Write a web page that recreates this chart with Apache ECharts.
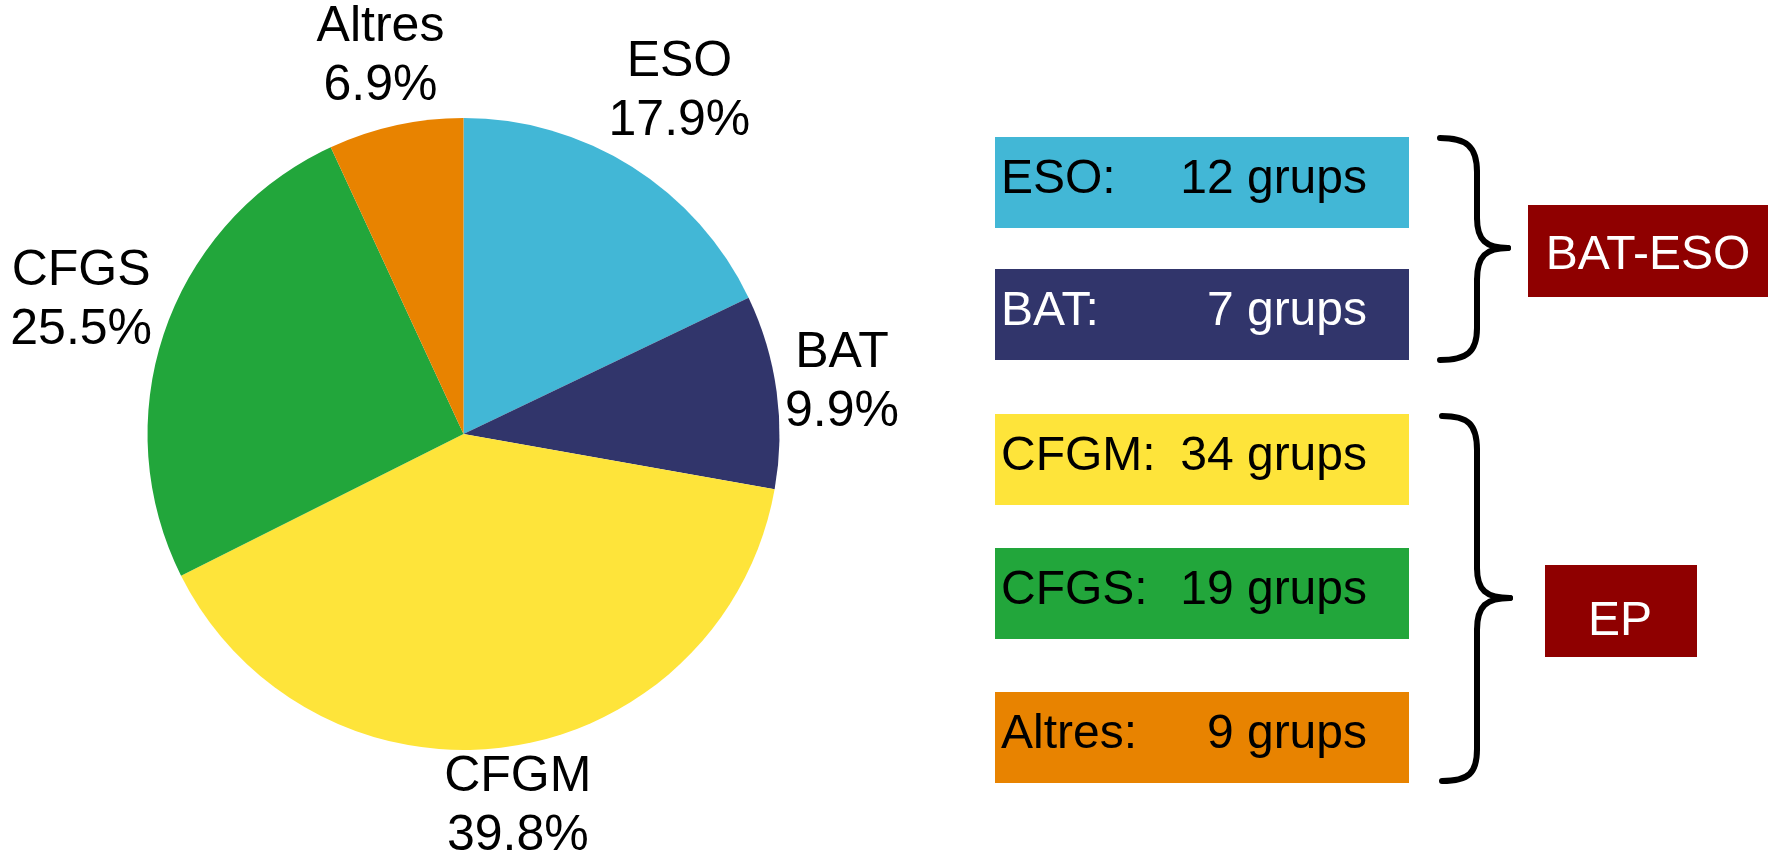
<!DOCTYPE html>
<html>
<head>
<meta charset="utf-8">
<script src="https://cdn.jsdelivr.net/npm/echarts@6/dist/echarts.min.js"></script>
<style>
html,body{margin:0;padding:0;background:#fff;}
#main{width:1773px;height:858px;}
</style>
</head>
<body>
<div id="main"></div>
<script>
// ---- data ----
const categories = ['ESO', 'BAT', 'CFGM', 'CFGS', 'Altres'];
const percents   = [17.9, 9.9, 39.8, 25.5, 6.9];
const groups     = [12, 7, 34, 19, 9];
const groupOrder = ['ESO', 'BAT', 'CFGM', 'CFGS', 'Altres'];
const groupTags  = ['BAT-ESO', 'EP'];

// ---- styles / layout ----
const colors = { ESO: '#42B7D6', BAT: '#31356B', CFGM: '#FEE43A', CFGS: '#22A63B', Altres: '#E88300' };
const boxText = { ESO: '#000', BAT: '#fff', CFGM: '#000', CFGS: '#000', Altres: '#000' };
const FONT = '"Liberation Sans", Arial, sans-serif';
const CX = 463.5, CY = 434, R = 316;
const labelDist = [405, 382, 377, 405, 386];
const boxTops = [137, 269, 414, 548, 692];
const BOX_X = 995, BOX_W = 414, BOX_H = 91;

const total = percents.reduce((a, b) => a + b, 0);
const midAngles = [];
{
  let c = 0;
  percents.forEach(v => { midAngles.push((c + v / 2) / total * 2 * Math.PI); c += v; });
}

const chart = echarts.init(document.getElementById('main'), null, { renderer: 'canvas' });

const graphics = [];
groupOrder.forEach((name, i) => {
  const y = boxTops[i];
  graphics.push({ type: 'rect', shape: { x: BOX_X, y: y, width: BOX_W, height: BOX_H }, style: { fill: colors[name] }, silent: true });
  graphics.push({ type: 'text', x: 1001, y: y + BOX_H / 2 - 3,
    style: { text: name + ':', font: '48px ' + FONT, fill: boxText[name], textAlign: 'left', textVerticalAlign: 'middle' }, silent: true });
  graphics.push({ type: 'text', x: 1367, y: y + BOX_H / 2 - 3,
    style: { text: groups[i] + ' grups', font: '48px ' + FONT, fill: boxText[name], textAlign: 'right', textVerticalAlign: 'middle' }, silent: true });
});

// braces built from bezier segments and lines
const braceStyle = { fill: 'none', stroke: '#000', lineWidth: 6, lineCap: 'round' };
function brace(xEnd, yTop, yBot, xV, xTip, yTip) {
  const segs = [];
  segs.push({ type: 'bezierCurve', shape: { x1: xEnd, y1: yTop, cpx1: xEnd + 26, cpy1: yTop, cpx2: xV, cpy2: yTop + 8, x2: xV, y2: yTop + 34 } });
  segs.push({ type: 'line', shape: { x1: xV, y1: yTop + 34, x2: xV, y2: yTip - 30 } });
  segs.push({ type: 'bezierCurve', shape: { x1: xV, y1: yTip - 30, cpx1: xV, cpy1: yTip - 8, cpx2: xV + 9, cpy2: yTip, x2: xTip, y2: yTip } });
  segs.push({ type: 'bezierCurve', shape: { x1: xTip, y1: yTip, cpx1: xV + 9, cpy1: yTip, cpx2: xV, cpy2: yTip + 8, x2: xV, y2: yTip + 32 } });
  segs.push({ type: 'line', shape: { x1: xV, y1: yTip + 32, x2: xV, y2: yBot - 32 } });
  segs.push({ type: 'bezierCurve', shape: { x1: xV, y1: yBot - 32, cpx1: xV, cpy1: yBot - 8, cpx2: xEnd + 27, cpy2: yBot, x2: xEnd, y2: yBot } });
  segs.forEach(s => { s.style = braceStyle; s.silent = true; graphics.push(s); });
}
brace(1440, 138, 360, 1477, 1508, 248);
brace(1442, 416, 781, 1477, 1510, 598);

// tag boxes
graphics.push({ type: 'rect', shape: { x: 1528, y: 205, width: 240, height: 92 }, style: { fill: '#8F0000' }, silent: true });
graphics.push({ type: 'text', x: 1648, y: 256, style: { text: groupTags[0], font: '48px ' + FONT, fill: '#fff', textAlign: 'center', textVerticalAlign: 'middle' }, silent: true });
graphics.push({ type: 'rect', shape: { x: 1545, y: 565, width: 152, height: 92 }, style: { fill: '#8F0000' }, silent: true });
graphics.push({ type: 'text', x: 1620, y: 622, style: { text: groupTags[1], font: '48px ' + FONT, fill: '#fff', textAlign: 'center', textVerticalAlign: 'middle' }, silent: true });

chart.setOption({
  backgroundColor: '#fff',
  animation: false,
  series: [{
    type: 'pie',
    center: [CX, CY],
    radius: [0, R],
    startAngle: 90,
    clockwise: true,
    avoidLabelOverlap: false,
    silent: true,
    data: categories.map((c, i) => ({ name: c, value: percents[i], itemStyle: { color: colors[c] } })),
    itemStyle: { borderWidth: 0 },
    label: {
      show: true,
      position: 'outside',
      formatter: p => p.name + '\n' + p.value.toFixed(1) + '%',
      fontFamily: FONT,
      fontSize: 50,
      lineHeight: 59,
      color: '#000',
      align: 'center'
    },
    labelLine: { show: false },
    labelLayout: function (p) {
      const i = p.dataIndex;
      const a = midAngles[i];
      return {
        x: CX + labelDist[i] * Math.sin(a),
        y: CY - labelDist[i] * Math.cos(a),
        align: 'center',
        verticalAlign: 'middle'
      };
    }
  }],
  graphic: graphics
});
</script>
</body>
</html>
